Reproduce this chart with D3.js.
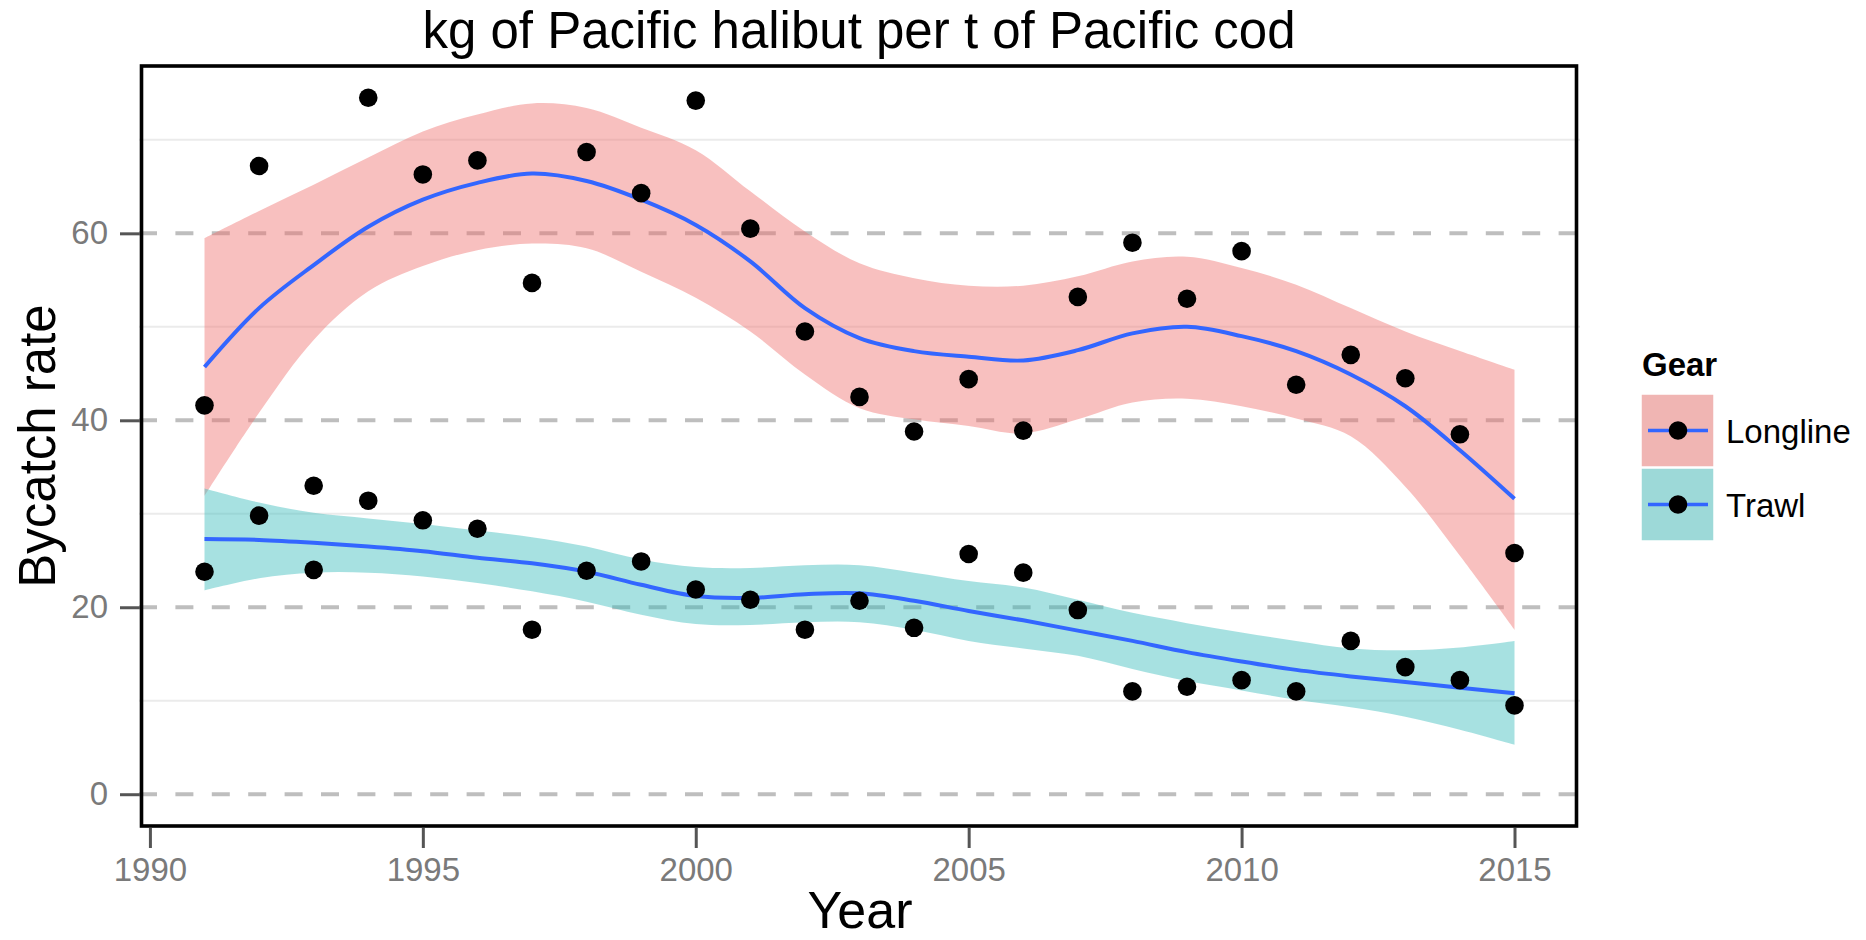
<!DOCTYPE html>
<html>
<head>
<meta charset="utf-8">
<script src="https://cdn.jsdelivr.net/npm/d3@7"></script>
<style>
  body { margin: 0; background: #fff; }
  svg { display: block; font-family: "Liberation Sans", Arial, Helvetica, sans-serif; }
</style>
</head>
<body>
<svg width="1866" height="940"></svg>
<script>
// data
const years = [1991, 1992, 1993, 1994, 1995, 1996, 1997, 1998, 1999, 2000, 2001, 2002, 2003,
               2004, 2005, 2006, 2007, 2008, 2009, 2010, 2011, 2012, 2013, 2014, 2015];

const longlineRate = [41.6, 67.2, 33.0, 74.5, 66.3, 67.8, 54.7, 68.7, 64.3, 74.2, 60.5, 49.5, 42.5,
                      38.8, 44.4, 38.9, 53.2, 59.0, 53.0, 58.1, 43.8, 47.0, 44.5, 38.5, 25.8];
const trawlRate = [23.8, 29.8, 24.0, 31.4, 29.3, 28.4, 17.6, 23.9, 24.9, 21.9, 20.8, 17.6, 20.7,
                   17.8, 25.7, 23.7, 19.7, 11.0, 11.5, 12.2, 11.0, 16.4, 13.6, 12.2, 9.5];

// smoother fit and confidence band
const longlineFit = [45.7, 52.0, 56.6, 60.7, 63.6, 65.4, 66.4, 65.6, 63.6, 60.9, 57.0, 52.0, 48.8,
                     47.4, 46.8, 46.4, 47.5, 49.3, 50.0, 49.0, 47.4, 44.9, 41.5, 36.8, 31.6];
const longlineUpper = [59.5, 62.4, 65.2, 68.1, 70.9, 72.7, 73.9, 73.4, 71.3, 68.9, 64.5, 60.2, 56.8,
                       55.2, 54.4, 54.4, 55.4, 57.0, 57.5, 56.3, 54.5, 52.0, 49.5, 47.4, 45.4];
const longlineLower = [31.9, 40.8, 48.6, 53.8, 56.5, 58.2, 58.9, 58.4, 55.9, 53.1, 49.5, 44.9, 41.3,
                       40.1, 39.4, 38.6, 40.1, 41.9, 42.3, 41.5, 40.2, 38.3, 32.9, 25.5, 17.6];

const trawlFit = [27.3, 27.2, 26.9, 26.5, 26.0, 25.3, 24.7, 23.8, 22.4, 21.2, 21.0, 21.4, 21.5,
                  20.7, 19.6, 18.6, 17.5, 16.4, 15.2, 14.2, 13.3, 12.6, 12.0, 11.4, 10.8];
const trawlUpper = [32.7, 31.2, 30.1, 29.5, 28.9, 28.2, 27.5, 26.5, 25.1, 24.3, 24.2, 24.5, 24.5,
                    23.7, 22.8, 22.1, 20.8, 19.4, 18.3, 17.3, 16.4, 15.6, 15.4, 15.7, 16.4];
const trawlLower = [21.8, 23.1, 23.7, 23.7, 23.3, 22.6, 21.7, 20.6, 19.2, 18.2, 18.1, 18.4, 18.4,
                    17.6, 16.4, 15.6, 14.8, 13.4, 12.1, 11.1, 10.1, 9.3, 8.3, 6.9, 5.3];

const gears = ["Longline", "Trawl"];
const xTicks = [1990, 1995, 2000, 2005, 2010, 2015];
const majorY = [0, 20, 40, 60];
const minorY = [10, 30, 50, 70];

const bandColor = { Longline: "#F07470", Trawl: "#3BBDBD" };
const keyColor = { Longline: "#F0B5B3", Trawl: "#9DD9D8" };

const svg = d3.select("svg");
const panel = { left: 139, right: 1580, top: 66, bottom: 826 };

const x = d3.scaleLinear().domain([1989.8, 2016.2]).range([panel.left, panel.right]);
const y = d3.scaleLinear().domain([-3.4, 77.9]).range([panel.bottom, panel.top]);

const series = [
  { gear: "Longline", rate: longlineRate, fit: longlineFit, lo: longlineLower, hi: longlineUpper },
  { gear: "Trawl", rate: trawlRate, fit: trawlFit, lo: trawlLower, hi: trawlUpper }
].map(s => ({
  gear: s.gear,
  rows: years.map((yr, i) => ({ year: yr, rate: s.rate[i], fit: s.fit[i], lo: s.lo[i], hi: s.hi[i] }))
}));

const curve = d3.curveCatmullRom.alpha(0.5);

// grid
svg.append("g")
  .selectAll("line")
  .data(minorY)
  .join("line")
  .attr("x1", panel.left).attr("x2", panel.right)
  .attr("y1", d => y(d)).attr("y2", d => y(d))
  .attr("stroke", "#EBEBEB")
  .attr("stroke-width", 2);

svg.append("g")
  .selectAll("line")
  .data(majorY)
  .join("line")
  .attr("x1", panel.left).attr("x2", panel.right)
  .attr("y1", d => y(d)).attr("y2", d => y(d))
  .attr("stroke", "#BEBEBE")
  .attr("stroke-width", 4)
  .attr("stroke-dasharray", "18,18.4");

// confidence bands
const band = d3.area()
  .x(d => x(d.year))
  .y0(d => y(d.lo))
  .y1(d => y(d.hi))
  .curve(curve);

svg.append("g")
  .selectAll("path")
  .data(series)
  .join("path")
  .attr("d", d => band(d.rows))
  .attr("fill", d => bandColor[d.gear])
  .attr("fill-opacity", 0.45);

// smoothers
const fitLine = d3.line()
  .x(d => x(d.year))
  .y(d => y(d.fit))
  .curve(curve);

svg.append("g")
  .selectAll("path")
  .data(series)
  .join("path")
  .attr("d", d => fitLine(d.rows))
  .attr("fill", "none")
  .attr("stroke", "#3366FF")
  .attr("stroke-width", 4);

// points
svg.append("g")
  .selectAll("circle")
  .data(series.flatMap(s => s.rows))
  .join("circle")
  .attr("cx", d => x(d.year))
  .attr("cy", d => y(d.rate))
  .attr("r", 9.3)
  .attr("fill", "#000");

// panel border
svg.append("rect")
  .attr("x", panel.left + 2.5).attr("y", panel.top)
  .attr("width", panel.right - panel.left - 6).attr("height", panel.bottom - panel.top)
  .attr("fill", "none")
  .attr("stroke", "#000")
  .attr("stroke-width", 3.6);

// axes
const xAxis = g => g
  .attr("transform", "translate(0," + (panel.bottom + 2) + ")")
  .call(d3.axisBottom(x).tickValues(xTicks).tickFormat(d3.format("d")).tickSize(20).tickPadding(10))
  .call(g => g.select(".domain").remove())
  .call(g => g.selectAll(".tick line").attr("stroke", "#555").attr("stroke-width", 3))
  .call(g => g.selectAll(".tick text").attr("fill", "#7a7a7a").attr("font-size", 33)
    .attr("font-family", "Liberation Sans, Arial, sans-serif"));

const yAxis = g => g
  .attr("transform", "translate(" + (panel.left + 1) + ",0)")
  .call(d3.axisLeft(y).tickValues(majorY).tickSize(20).tickPadding(12))
  .call(g => g.select(".domain").remove())
  .call(g => g.selectAll(".tick line").attr("stroke", "#555").attr("stroke-width", 3))
  .call(g => g.selectAll(".tick text").attr("fill", "#7a7a7a").attr("font-size", 33)
    .attr("font-family", "Liberation Sans, Arial, sans-serif"));

svg.append("g").call(xAxis);
svg.append("g").call(yAxis);

// titles
svg.append("text")
  .attr("x", 859).attr("y", 48)
  .attr("text-anchor", "middle")
  .attr("font-size", 51)
  .text("kg of Pacific halibut per t of Pacific cod");

svg.append("text")
  .attr("x", 860).attr("y", 928)
  .attr("text-anchor", "middle")
  .attr("font-size", 52)
  .text("Year");

svg.append("text")
  .attr("transform", "translate(55," + ((panel.top + panel.bottom) / 2) + ") rotate(-90)")
  .attr("text-anchor", "middle")
  .attr("font-size", 51)
  .text("Bycatch rate");

// legend
const legend = svg.append("g").attr("transform", "translate(1641,0)");

legend.append("text")
  .attr("x", 1).attr("y", 376)
  .attr("font-size", 33)
  .attr("font-weight", "bold")
  .text("Gear");

const key = legend.selectAll("g.key")
  .data(gears)
  .join("g")
  .attr("class", "key")
  .attr("transform", (d, i) => "translate(0," + (394 + i * 74) + ")");

key.append("rect")
  .attr("width", 73).attr("height", 73)
  .attr("fill", d => keyColor[d])
  .attr("stroke", "#fff")
  .attr("stroke-width", 1.5);

key.append("line")
  .attr("x1", 7).attr("x2", 67)
  .attr("y1", 36.5).attr("y2", 36.5)
  .attr("stroke", "#3366FF")
  .attr("stroke-width", 3.6);

key.append("circle")
  .attr("cx", 37).attr("cy", 36.5)
  .attr("r", 9.3)
  .attr("fill", "#000");

key.append("text")
  .attr("x", 85).attr("y", 49)
  .attr("font-size", 33)
  .text(d => d);
</script>
</body>
</html>
